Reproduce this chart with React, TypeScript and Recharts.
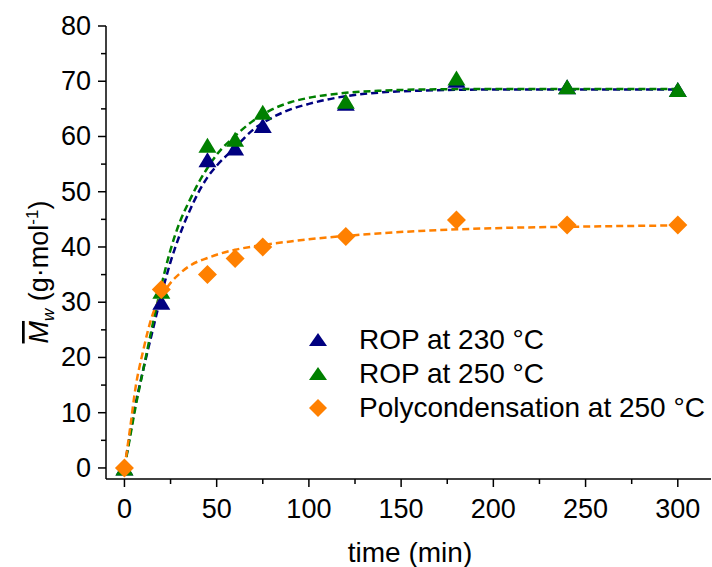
import React from "react";
import { ComposedChart, Line, Scatter, XAxis, YAxis } from "recharts";

// measured points
const timeMin = [0, 20, 45, 60, 75, 120, 180, 240, 300];
const rop230 = [0, 30, 55.8, 57.9, 62, 66, 70.2, 69, 68.5];
const rop250 = [0, 32, 58.4, 59.5, 64.4, 66.4, 70.6, 69, 68.5];
const poly250 = [0, 32.3, 35, 37.9, 40, 41.9, 44.9, 44, 44];

// fitted curves
const fitTime = [0, 3, 6, 10, 15, 20, 25, 30, 35, 40, 45, 50, 60, 70, 80, 90, 100, 120, 140, 160, 200, 250, 300];
const fit230 = [0, 6, 11.5, 17.5, 24.5, 31.3, 37.3, 42.2, 46.3, 49.8, 52.6, 54.7, 58, 61.3, 63.4, 64.9, 65.9, 67.3, 68, 68.3, 68.5, 68.5, 68.5];
const fit250 = [0, 5.5, 11, 17.5, 25.5, 33, 39.5, 44.5, 48.2, 51.5, 54.3, 56.7, 60.1, 62.9, 64.9, 66.2, 67, 67.9, 68.3, 68.5, 68.6, 68.6, 68.6];
const fitPoly = [0, 7, 14.5, 21, 27.5, 31, 33.5, 35.2, 36.5, 37.4, 38, 38.6, 39.5, 40.1, 40.6, 41, 41.4, 42, 42.5, 42.9, 43.4, 43.7, 43.9];

const xTicks = [0, 25, 50, 75, 100, 125, 150, 175, 200, 225, 250, 275, 300];
const yTicks = [0, 5, 10, 15, 20, 25, 30, 35, 40, 45, 50, 55, 60, 65, 70, 75, 80];

const seriesNames = ["ROP at 230 °C", "ROP at 250 °C", "Polycondensation at 250 °C"];

const NAVY = "#000080";
const GREEN = "#008000";
const ORANGE = "#FF8000";
const FONT = "Arial, 'Liberation Sans', sans-serif";

const toPoints = (ts: number[], vs: number[]) => ts.map((t, i) => ({ t, v: vs[i] }));

const triangle = (color: string) => (props: any) => {
  const { cx, cy } = props;
  if (cx == null || cy == null) return <g />;
  return <polygon points={`${cx - 9},${cy + 7.5} ${cx + 9},${cy + 7.5} ${cx},${cy - 7.5}`} fill={color} />;
};

const diamond = (props: any) => {
  const { cx, cy } = props;
  if (cx == null || cy == null) return <g />;
  return <polygon points={`${cx},${cy - 9.5} ${cx + 9.5},${cy} ${cx},${cy + 9.5} ${cx - 9.5},${cy}`} fill={ORANGE} />;
};

const YTick = ({ x, y, payload }: any) => {
  const major = payload.value % 10 === 0;
  return (
    <g>
      <line x1={x} x2={x - (major ? 8 : 5)} y1={y} y2={y} stroke="#000" strokeWidth={1.5} />
      {major && (
        <text x={x - 15} y={y} textAnchor="end" dominantBaseline="central" fontSize={27} fontFamily={FONT} fill="#000">
          {payload.value}
        </text>
      )}
    </g>
  );
};

const XTick = ({ x, y, payload }: any) => {
  const major = payload.value % 50 === 0;
  return (
    <g>
      <line x1={x} x2={x} y1={y} y2={y + (major ? 8 : 5)} stroke="#000" strokeWidth={1.5} />
      {major && (
        <text x={x} y={y + 38.5} textAnchor="middle" fontSize={27} fontFamily={FONT} fill="#000">
          {payload.value}
        </text>
      )}
    </g>
  );
};

const LegendBox = () => {
  const marks = [
    <polygon key="a" points="1,16 19,16 10,3" fill={NAVY} />,
    <polygon key="b" points="1,16 19,16 10,3" fill={GREEN} />,
    <polygon key="c" points="10,1 19,10 10,19 1,10" fill={ORANGE} />,
  ];
  return (
    <div style={{ position: "absolute", left: 308, top: 323, fontFamily: FONT, fontSize: 28, color: "#000" }}>
      {seriesNames.map((name, i) => (
        <div key={name} style={{ display: "flex", alignItems: "center", height: 34 }}>
          <svg width={20} height={20}>
            {marks[i]}
          </svg>
          <span style={{ marginLeft: 31, whiteSpace: "nowrap" }}>{name}</span>
        </div>
      ))}
    </div>
  );
};

export default function App() {
  return (
    <div style={{ position: "absolute", left: 0, top: 0, width: 712, height: 567, background: "#fff" }}>
      <ComposedChart width={712} height={567} margin={{ top: 26, right: 1, bottom: 0, left: 0 }}>
        <XAxis
          dataKey="t"
          type="number"
          domain={[-10, 318]}
          ticks={xTicks}
          allowDataOverflow
          height={88}
          tickSize={0}
          tickMargin={0}
          tick={<XTick />}
          axisLine={{ stroke: "#000", strokeWidth: 1.5 }}
          label={() => (
            <text x={410} y={562} textAnchor="middle" fontSize={28} fontFamily={FONT} fill="#000">
              time (min)
            </text>
          )}
        />
        <YAxis
          type="number"
          domain={[-2, 80]}
          ticks={yTicks}
          allowDataOverflow
          width={106}
          tickSize={0}
          tickMargin={0}
          tick={<YTick />}
          axisLine={{ stroke: "#000", strokeWidth: 1.5 }}
          label={() => (
            <text
              x={48}
              y={272}
              transform="rotate(-90, 48, 272)"
              textAnchor="middle"
              fontSize={27}
              fontFamily={FONT}
              fill="#000"
            >
              <tspan fontStyle="italic" style={{ textDecoration: "overline" }}>M</tspan>
              <tspan fontStyle="italic" fontSize={17} dy={6}>w</tspan>
              <tspan dy={-6}> (g·mol</tspan>
              <tspan fontSize={17} dy={-10}>-1</tspan>
              <tspan dy={10}>)</tspan>
            </text>
          )}
        />
        <Scatter name={seriesNames[0]} data={toPoints(timeMin, rop230)} dataKey="v" shape={triangle(NAVY)} isAnimationActive={false} />
        <Scatter name={seriesNames[1]} data={toPoints(timeMin, rop250)} dataKey="v" shape={triangle(GREEN)} isAnimationActive={false} />
        <Scatter name={seriesNames[2]} data={toPoints(timeMin, poly250)} dataKey="v" shape={diamond} isAnimationActive={false} />
        <Line data={toPoints(fitTime, fit230)} dataKey="v" type="monotone" stroke={NAVY} strokeWidth={2.5} strokeDasharray="7 4" dot={false} activeDot={false} isAnimationActive={false} />
        <Line data={toPoints(fitTime, fit250)} dataKey="v" type="monotone" stroke={GREEN} strokeWidth={2.5} strokeDasharray="7 4" dot={false} activeDot={false} isAnimationActive={false} />
        <Line data={toPoints(fitTime, fitPoly)} dataKey="v" type="monotone" stroke={ORANGE} strokeWidth={2.5} strokeDasharray="7 4" dot={false} activeDot={false} isAnimationActive={false} />
      </ComposedChart>
      <LegendBox />
    </div>
  );
}
